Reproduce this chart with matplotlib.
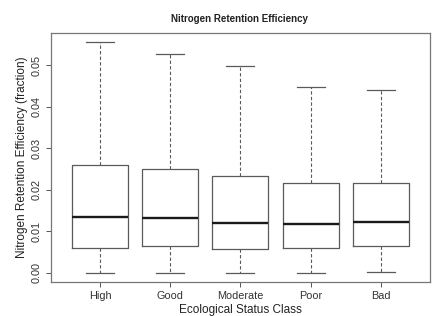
import matplotlib
matplotlib.use("Agg")

import matplotlib.pyplot as plt

# values
classes = ["High", "Good", "Moderate", "Poor", "Bad"]
whisker_low = [0.0000, 0.0000, 0.0000, 0.0000, 0.0002]
q1 = [0.0060, 0.0065, 0.0056, 0.0060, 0.0065]
medians = [0.0133, 0.0132, 0.0120, 0.0117, 0.0122]
q3 = [0.0260, 0.0249, 0.0234, 0.0215, 0.0215]
whisker_high = [0.0556, 0.0528, 0.0499, 0.0447, 0.0440]
y_ticks = [0.00, 0.01, 0.02, 0.03, 0.04, 0.05]

plt.rcParams["font.family"] = ["Liberation Sans", "DejaVu Sans"]

fig = plt.figure(figsize=(4.32, 3.16), dpi=100)
ax = fig.add_axes([0.118, 0.108, 0.877, 0.788])

stats = []
for name, lo, a, m, b, hi in zip(classes, whisker_low, q1, medians, q3, whisker_high):
    stats.append({"label": name, "whislo": lo, "q1": a, "med": m, "q3": b,
                  "whishi": hi, "fliers": []})

line_col = "#5a5a5a"
ax.bxp(
    stats,
    positions=range(1, len(classes) + 1),
    widths=0.8,
    capwidths=0.4,
    showfliers=False,
    boxprops=dict(color=line_col, linewidth=0.9),
    medianprops=dict(color="#1a1a1a", linewidth=1.7),
    whiskerprops=dict(color=line_col, linewidth=0.8, linestyle=(0, (3, 2))),
    capprops=dict(color=line_col, linewidth=0.9),
)

lo_all = min(whisker_low)
hi_all = max(whisker_high)
pad = 0.04 * (hi_all - lo_all)
ax.set_ylim(lo_all - pad, hi_all + pad)
ax.set_xlim(0.3, len(classes) + 0.7)

ax.set_yticks(y_ticks)
ax.set_yticklabels([f"{t:.2f}" for t in y_ticks], rotation=90, va="center")
ax.set_xticks(range(1, len(classes) + 1))
ax.set_xticklabels(classes)
ax.tick_params(axis="both", labelsize=7.8, length=3.5, width=0.7,
               color="#555555", labelcolor="#333333", pad=3)

for sp in ax.spines.values():
    sp.set_color("#777777")
    sp.set_linewidth(0.9)

ax.set_xlabel("Ecological Status Class", fontsize=8.5, color="#222222", labelpad=2.5)
ax.set_ylabel("Nitrogen Retention Efficiency (fraction)", fontsize=8.5,
              color="#222222", labelpad=3)
fig.text(0.555, 0.94, "Nitrogen Retention Efficiency", ha="center", va="center",
         fontsize=7, fontweight="bold", color="#222222")

fig.savefig("out.png", dpi=100)
